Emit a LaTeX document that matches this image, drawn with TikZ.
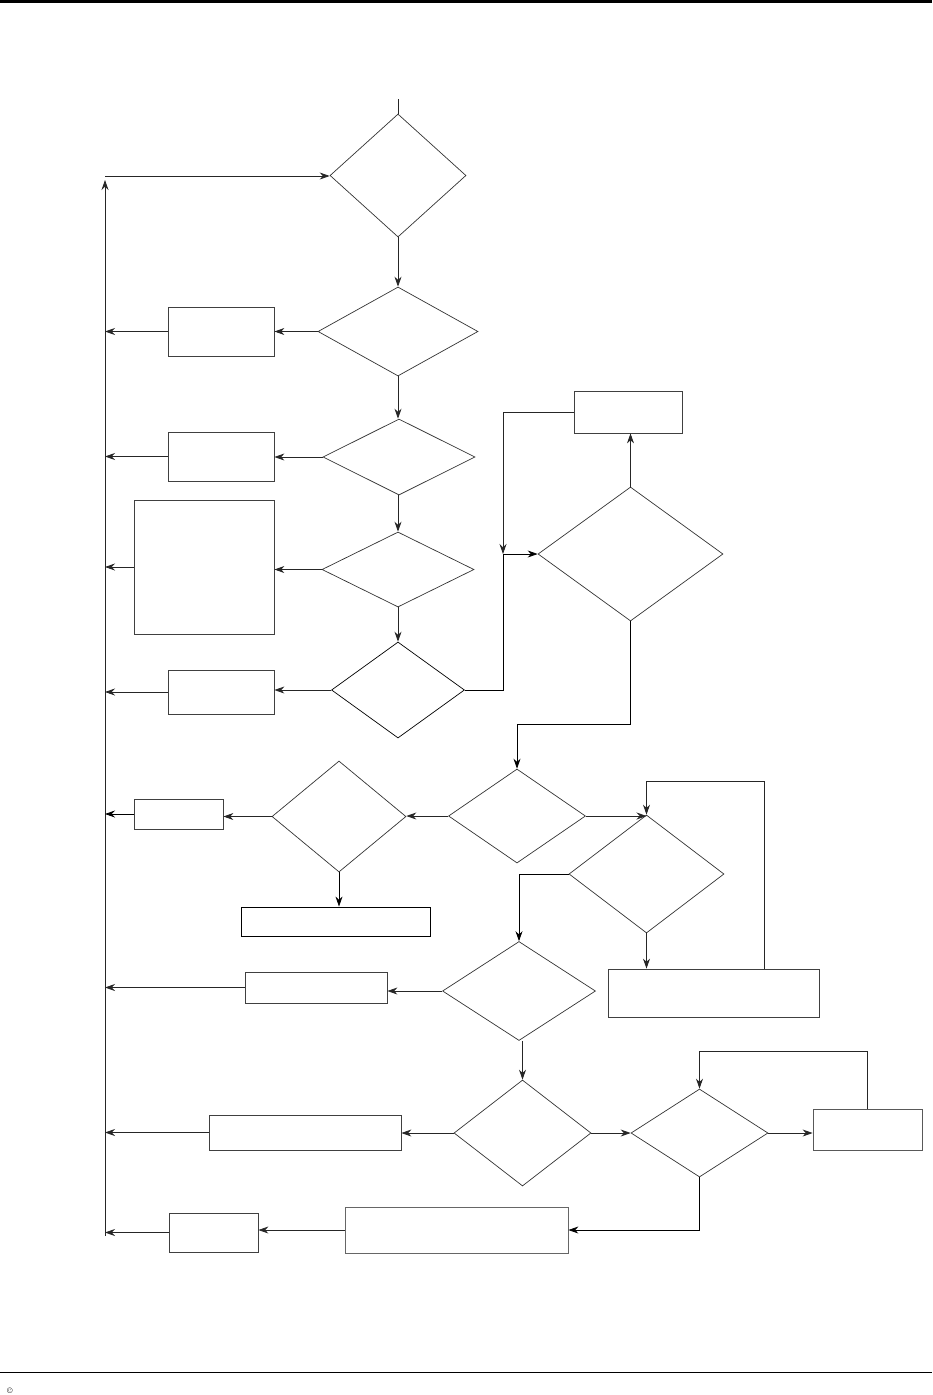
\documentclass[tikz,border=0pt]{standalone}
\usetikzlibrary{shapes.geometric,arrows.meta}
\begin{document}
\begin{tikzpicture}[x=1pt,y=-1pt,
  dmd/.style={shape=diamond,draw=black!80,line width=0.7pt,inner sep=0pt,aspect=1},
  bx/.style={shape=rectangle,draw=black!75,line width=0.8pt,inner sep=0pt},
  arr/.style={-{Stealth[length=10pt,width=7pt]},draw=black!85,line width=0.8pt},
  ln/.style={draw=black!85,line width=0.8pt}]
\useasboundingbox (0,0) rectangle (932,1395);
% page rules
\draw[line width=2.5pt,draw=black] (0,1.5) -- (932,1.5);
\draw[line width=1pt,draw=black] (0,1372) -- (932,1372);
\node[anchor=west,inner sep=0pt,font=\fontsize{8}{9}\selectfont] (copy) at (7,1391) {\textcopyright};

% decisions
\node[dmd,minimum width=136pt,minimum height=123pt] (D1) at (398,175.5) {};
\node[dmd,minimum width=160pt,minimum height=89pt] (D2) at (398,331.5) {};
\node[dmd,minimum width=152pt,minimum height=76pt] (D3) at (399,457) {};
\node[dmd,minimum width=152pt,minimum height=75pt] (D4) at (398,569.5) {};
\node[dmd,minimum width=133pt,minimum height=96pt,draw=black] (D5) at (398,690) {};
\node[dmd,minimum width=185pt,minimum height=134pt] (D6) at (630.5,554) {};
\node[dmd,minimum width=137pt,minimum height=94pt] (D7) at (517,816) {};
\node[dmd,minimum width=134pt,minimum height=111pt] (D8) at (339,816.5) {};
\node[dmd,minimum width=155pt,minimum height=118pt] (D9) at (646.5,874) {};
\node[dmd,minimum width=153pt,minimum height=99pt] (D10) at (519,991) {};
\node[dmd,minimum width=137pt,minimum height=106pt] (D11) at (522.5,1133) {};
\node[dmd,minimum width=137pt,minimum height=88pt] (D12) at (699.5,1133) {};

% boxes
\node[bx,minimum width=106pt,minimum height=49pt] (B2) at (221,331.5) {};
\node[bx,minimum width=106pt,minimum height=49pt] (B3) at (221,456.5) {};
\node[bx,minimum width=140pt,minimum height=134pt] (B4) at (204,567) {};
\node[bx,minimum width=106pt,minimum height=44pt] (B5) at (221,692) {};
\node[bx,minimum width=108pt,minimum height=42pt] (B6) at (628,412) {};
\node[bx,minimum width=89pt,minimum height=30pt] (B8a) at (178.5,814) {};
\node[bx,minimum width=189pt,minimum height=29pt,draw=black,line width=0.9pt] (B8b) at (335.5,921.5) {};
\node[bx,minimum width=211pt,minimum height=48pt] (B9) at (713.5,993) {};
\node[bx,minimum width=142pt,minimum height=31pt] (B10) at (316,987.5) {};
\node[bx,minimum width=192pt,minimum height=35pt] (B11) at (305,1132.5) {};
\node[bx,minimum width=89pt,minimum height=39pt] (B12) at (213.5,1232.5) {};
\node[bx,minimum width=223pt,minimum height=46pt,draw=black!60] (B13) at (456.5,1230) {};
\node[bx,minimum width=109pt,minimum height=41pt,draw=black!65] (B14) at (867.5,1129.5) {};

% helper coordinates
\coordinate (entry) at (398,99);
\coordinate (busx) at (105,0);
\coordinate (busbot) at (105,1236);
\coordinate (bustop) at (105,180);
\coordinate (buscorner) at (105,176);
\coordinate (j1) at (503,554);
\coordinate (j2) at (517,724);
\coordinate (l1) at (764,781);
\coordinate (l2) at (867,1051);

% main spine
\draw[ln] (entry) -- (D1.north);
\draw[arr] (busbot) -- (bustop);
\draw[arr] (buscorner) -- (buscorner -| D1.west);
\draw[arr] (D1.south) -- (D1.south |- D2.north);
\draw[arr] (D2.south) -- (D2.south |- D3.north);
\draw[arr] (D4.north |- D3.south) -- (D4.north);
\draw[arr] (D4.south) -- (D4.south |- D5.north);

% left branches
\draw[arr] (D2.west) -- (D2.west -| B2.east);
\draw[arr] (B2.west) -- (B2.west -| busx);
\draw[arr] (D3.west) -- (D3.west -| B3.east);
\draw[arr] (B3.west) -- (B3.west -| busx);
\draw[arr] (D4.west) -- (D4.west -| B4.east);
\draw[arr] (B4.west) -- (B4.west -| busx);
\draw[arr] (D5.west) -- (D5.west -| B5.east);
\draw[arr] (B5.west) -- (B5.west -| busx);

% D5 -> D6 loop
\draw[arr,draw=black] (D5.east) -| (j1) -- (D6.west);
\draw[arr] (B6.west) -| (j1);
\draw[arr] (D6.north) -- (D6.north |- B6.south);
\draw[arr,draw=black] (D6.south) |- (j2) -- (D7.north);

% D7 level
\draw[arr] (D7.west) -- (D7.west -| D8.east);
\draw[arr] (D8.west) -- (D8.west -| B8a.east);
\draw[arr,draw=black] (B8a.west) -- (B8a.west -| busx);
\draw[arr,draw=black] (D8.south) -- (D8.south |- B8b.north);
\draw[arr] (D7.east) -- (D7.east -| D9.north);
\draw[ln] (B9.north -| l1) |- (l1 -| D9.north);
\draw[arr] (l1 -| D9.north) -- (D9.north);
\draw[arr] (D9.south) -- (D9.south |- B9.north);
\draw[arr,draw=black] (D9.west) -| (D10.north);

% D10 level
\draw[arr] (D10.west) -- (D10.west -| B10.east);
\draw[arr] (B10.west) -- (B10.west -| busx);
\draw[arr] (D10.south -| D11.north) -- (D11.north);

% D11 level
\draw[arr] (D11.west) -- (D11.west -| B11.east);
\draw[arr] (B11.west) -- (B11.west -| busx);
\draw[arr] (D11.east) -- (D12.west);
\draw[arr] (D12.east) -- (D12.east -| B14.west);
\draw[ln] (B14.north -| l2) |- (l2 -| D12.north);
\draw[arr] (l2 -| D12.north) -- (D12.north);
\draw[arr,draw=black] (D12.south) |- (B13.east);
\draw[arr] (B13.west) -- (B13.west -| B12.east);
\draw[arr] (B12.west) -- (B12.west -| busx);
\end{tikzpicture}
\end{document}
